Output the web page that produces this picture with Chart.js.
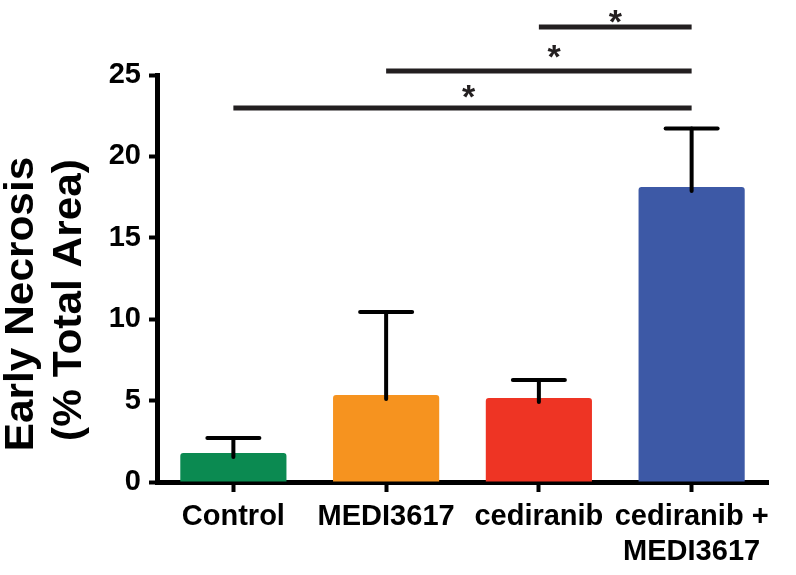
<!DOCTYPE html>
<html>
<head>
<meta charset="utf-8">
<script src="https://cdn.jsdelivr.net/npm/chart.js@4/dist/chart.umd.min.js"></script>
<style>
  html, body { margin: 0; padding: 0; background: #ffffff; }
  #wrap { width: 796px; height: 575px; }
</style>
</head>
<body>
<div id="wrap"><canvas id="c" width="796" height="575"></canvas></div>
<script>
// ---- data ----
const categories = ['Control', 'MEDI3617', 'cediranib', ['cediranib +', 'MEDI3617']];
const meanValues = [1.78, 5.34, 5.16, 18.12];
const errorValues = [0.92, 5.1, 1.1, 3.6];
const barColors = ['#0b8a51', '#f6931f', '#ee3424', '#3d59a6'];
const yTicks = [0, 5, 10, 15, 20, 25];
const yTitle = ['Early Necrosis', '(% Total Area)'];
// significance brackets: from category index, to category index, level (y units), star position
const sigFrom = [0, 1, 2];
const sigTo = [3, 3, 3];
const sigLevel = [22.97, 25.25, 27.95];
const sigStarX = [1.54, 2.1, 2.5];
const sigStarY = [24.1, 26.6, 28.75];
const sigLabel = ['*', '*', '*'];

const FONT = "'Liberation Sans', Arial, Helvetica, sans-serif";

const errorBarPlugin = {
  id: 'errorBars',
  afterDatasetsDraw(chart) {
    const ctx = chart.ctx;
    const xs = chart.scales.x, ys = chart.scales.y;
    ctx.save();
    ctx.strokeStyle = '#000';
    ctx.lineWidth = 4;
    ctx.lineCap = 'round';
    meanValues.forEach((v, i) => {
      const x = xs.getPixelForValue(i);
      const yTop = ys.getPixelForValue(v + errorValues[i]);
      const yBar = ys.getPixelForValue(v);
      ctx.beginPath();
      ctx.moveTo(x, yBar + 4);
      ctx.lineTo(x, yTop);
      ctx.stroke();
      ctx.beginPath();
      ctx.moveTo(x - 26, yTop);
      ctx.lineTo(x + 26, yTop);
      ctx.stroke();
    });
    ctx.restore();
  }
};

const sigPlugin = {
  id: 'sig',
  afterDraw(chart) {
    const ctx = chart.ctx;
    const xs = chart.scales.x, ys = chart.scales.y;
    ctx.save();
    ctx.strokeStyle = '#231f20';
    ctx.fillStyle = '#231f20';
    ctx.lineWidth = 5;
    ctx.lineCap = 'butt';
    const fs = 34;
    sigLevel.forEach((lv, i) => {
      const y = ys.getPixelForValue(lv);
      ctx.beginPath();
      ctx.moveTo(xs.getPixelForValue(sigFrom[i]), y);
      ctx.lineTo(xs.getPixelForValue(sigTo[i]), y);
      ctx.stroke();
      ctx.font = 'bold ' + fs + 'px ' + FONT;
      ctx.textAlign = 'center';
      ctx.textBaseline = 'alphabetic';
      ctx.fillText(sigLabel[i], xs.getPixelForValue(sigStarX[i]), ys.getPixelForValue(sigStarY[i]) + 0.55 * fs);
    });
    ctx.restore();
  }
};

const yTitlePlugin = {
  id: 'yTitle',
  afterDraw(chart) {
    const ctx = chart.ctx;
    ctx.save();
    ctx.fillStyle = '#000';
    ctx.font = 'bold 40px ' + FONT;
    ctx.textAlign = 'center';
    ctx.textBaseline = 'alphabetic';
    const pos = [[33, 304], [81, 300]];
    yTitle.forEach((t, i) => {
      ctx.save();
      ctx.translate(pos[i][0], pos[i][1]);
      ctx.rotate(-Math.PI / 2);
      ctx.scale(1.06, 1);
      ctx.fillText(t, 0, 0);
      ctx.restore();
    });
    ctx.restore();
  }
};

new Chart(document.getElementById('c'), {
  type: 'bar',
  data: {
    labels: categories,
    datasets: [{
      data: meanValues,
      backgroundColor: barColors,
      borderWidth: 0,
      borderRadius: 3,
      borderSkipped: 'bottom',
      categoryPercentage: 1.0,
      barPercentage: 0.695
    }]
  },
  options: {
    responsive: false,
    animation: false,
    devicePixelRatio: 1,
    layout: { padding: { top: 75, right: 28, left: 0, bottom: 0 } },
    plugins: { legend: { display: false }, tooltip: { enabled: false } },
    scales: {
      x: {
        grid: { offset: false, drawOnChartArea: false, drawTicks: true, tickLength: 10, tickWidth: 4, tickColor: '#000' },
        border: { display: true, color: '#000', width: 5 },
        ticks: {
          color: '#000',
          font: { family: FONT, size: 29, weight: 'bold', lineHeight: 1.2 },
          padding: 8,
          maxRotation: 0, minRotation: 0, autoSkip: false
        },
        afterFit(scale) { scale.height = 93; scale.paddingLeft = 0; scale.paddingRight = 0; }
      },
      y: {
        min: 0, max: 25,
        afterBuildTicks(scale) { scale.ticks = yTicks.map(v => ({ value: v })); },
        grid: { drawOnChartArea: false, drawTicks: true, tickLength: 8, tickWidth: 4, tickColor: '#000' },
        border: { display: true, color: '#000', width: 5 },
        ticks: {
          color: '#000',
          font: { family: FONT, size: 29, weight: 'bold' },
          padding: 8
        },
        title: { display: false },
        afterFit(scale) { scale.width = 157; scale.paddingTop = 0; scale.paddingBottom = 0; }
      }
    }
  },
  plugins: [errorBarPlugin, sigPlugin, yTitlePlugin]
});
</script>
</body>
</html>
